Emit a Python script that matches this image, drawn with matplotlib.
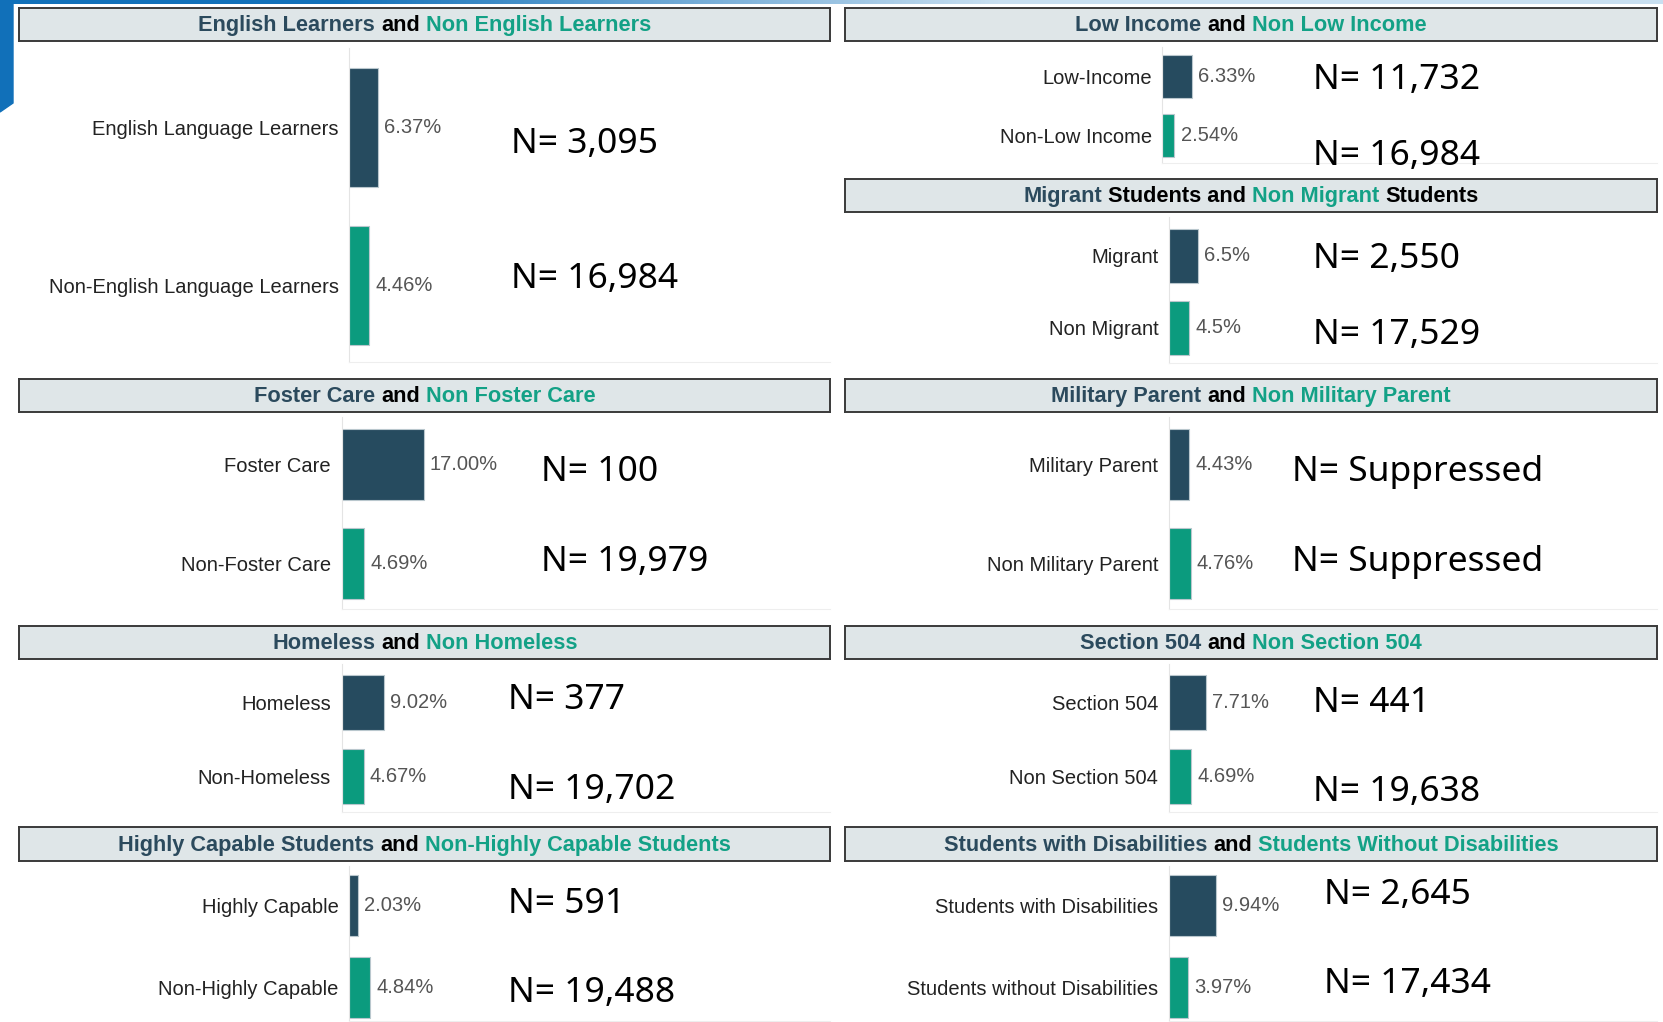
import numpy as np
import matplotlib
matplotlib.use('Agg')
import matplotlib.pyplot as plt
from matplotlib.patches import Polygon

W, H = 1663, 1022
S = W / 1568  # layout below was measured on the 1568 px wide preview

DARK = '#264b5f'
TEAL = '#0b9b7e'
TITLE_DARK = '#2b4a5d'
TITLE_TEAL = '#13a186'
HEAD_BG = '#dfe6e8'

plt.rcParams['font.family'] = ['Liberation Sans', 'DejaVu Sans']

# ---- data ----
el_labels = ['English Language Learners', 'Non-English Language Learners']
el_pct = [6.37, 4.46]
el_n = ['3,095', '16,984']

fc_labels = ['Foster Care', 'Non-Foster Care']
fc_pct = [17.00, 4.69]
fc_n = ['100', '19,979']

hl_labels = ['Homeless', 'Non-Homeless']
hl_pct = [9.02, 4.67]
hl_n = ['377', '19,702']

hc_labels = ['Highly Capable', 'Non-Highly Capable']
hc_pct = [2.03, 4.84]
hc_n = ['591', '19,488']

li_labels = ['Low-Income', 'Non-Low Income']
li_pct = [6.33, 2.54]
li_n = ['11,732', '16,984']

mg_labels = ['Migrant', 'Non Migrant']
mg_pct = [6.5, 4.5]
mg_n = ['2,550', '17,529']

mp_labels = ['Military Parent', 'Non Military Parent']
mp_pct = [4.43, 4.76]
mp_n = ['Suppressed', 'Suppressed']

s5_labels = ['Section 504', 'Non Section 504']
s5_pct = [7.71, 4.69]
s5_n = ['441', '19,638']

sd_labels = ['Students with Disabilities', 'Students without Disabilities']
sd_pct = [9.94, 3.97]
sd_n = ['2,645', '17,434']

K, A, T = TITLE_DARK, 'black', TITLE_TEAL
panels = [
    dict(title=[('English Learners', K), ('and', A), ('Non English Learners', T)],
         labels=el_labels, pct=el_pct, n=el_n, fmt='{:.2f}%',
         box=(18, 783, 8, 39), x0=329, body=(45, 341), cy=(120, 269), bh=112, ppp=4.25,
         nx=482, ny=(132, 259)),
    dict(title=[('Foster Care', K), ('and', A), ('Non Foster Care', T)],
         labels=fc_labels, pct=fc_pct, n=fc_n, fmt='{:.2f}%',
         box=(18, 783, 357, 388), x0=322, body=(393, 574), cy=(438, 531), bh=67, ppp=4.55,
         nx=510, ny=(441, 526)),
    dict(title=[('Homeless', K), ('and', A), ('Non Homeless', T)],
         labels=hl_labels, pct=hl_pct, n=hl_n, fmt='{:.2f}%',
         box=(18, 783, 590, 621), x0=322, body=(626, 766), cy=(662, 732), bh=52, ppp=4.45,
         nx=479, ny=(656, 741)),
    dict(title=[('Highly Capable Students', K), ('and', A), ('Non-Highly Capable Students', T)],
         labels=hc_labels, pct=hc_pct, n=hc_n, fmt='{:.2f}%',
         box=(18, 783, 780, 812), x0=329, body=(817, 963), cy=(854, 931), bh=58, ppp=4.1,
         nx=479, ny=(848, 932)),
    dict(title=[('Low Income', K), ('and', A), ('Non Low Income', T)],
         labels=li_labels, pct=li_pct, n=li_n, fmt='{:.2f}%',
         box=(797, 1562, 8, 39), x0=1096, body=(44, 154), cy=(72, 128), bh=41, ppp=4.4,
         nx=1238, ny=(71, 143)),
    dict(title=[('Migrant', K), ('Students and', A), ('Non Migrant', T), ('Students', A)],
         labels=mg_labels, pct=mg_pct, n=mg_n, fmt='{:.1f}%',
         box=(797, 1562, 169, 200), x0=1102, body=(205, 342), cy=(241, 309), bh=51, ppp=4.25,
         nx=1238, ny=(240, 312)),
    dict(title=[('Military Parent', K), ('and', A), ('Non Military Parent', T)],
         labels=mp_labels, pct=mp_pct, n=mp_n, fmt='{:.2f}%',
         box=(797, 1562, 357, 388), x0=1102, body=(393, 574), cy=(438, 531), bh=67, ppp=4.35,
         nx=1218, ny=(441, 526)),
    dict(title=[('Section 504', K), ('and', A), ('Non Section 504', T)],
         labels=s5_labels, pct=s5_pct, n=s5_n, fmt='{:.2f}%',
         box=(797, 1562, 590, 621), x0=1102, body=(626, 766), cy=(662, 732), bh=52, ppp=4.5,
         nx=1238, ny=(659, 743)),
    dict(title=[('Students with Disabilities', K), ('and', A), ('Students Without Disabilities', T)],
         labels=sd_labels, pct=sd_pct, n=sd_n, fmt='{:.2f}%',
         box=(797, 1562, 780, 812), x0=1102, body=(817, 963), cy=(854, 931), bh=58, ppp=4.45,
         nx=1248, ny=(840, 924)),
]


def rect(x0, y0, x1, y1):
    # preview pixel box (top-left origin) -> figure fraction
    return [x0 * S / W, 1 - y1 * S / H, (x1 - x0) * S / W, (y1 - y0) * S / H]


def draw_header(fig, r, pieces):
    ax = fig.add_axes(r)
    ax.set_facecolor(HEAD_BG)
    ax.set_xticks([])
    ax.set_yticks([])
    for sp in ax.spines.values():
        sp.set_color('#3a3a3a')
        sp.set_linewidth(1.4)
    rend = fig.canvas.get_renderer()
    kw = dict(fontsize=15.7, fontweight='bold', va='center', ha='left', transform=ax.transAxes)
    t1 = ax.text(0, 0.5, 'a a', **kw)
    t2 = ax.text(0, 0.5, 'aa', **kw)
    gap = t1.get_window_extent(rend).width - t2.get_window_extent(rend).width
    t1.remove()
    t2.remove()
    texts = [ax.text(0, 0.47, s, color=c, **kw) for s, c in pieces]
    widths = [t.get_window_extent(rend).width for t in texts]
    axw = ax.get_window_extent(rend).width
    x = (axw - sum(widths) - gap * (len(widths) - 1)) / 2
    for t, w in zip(texts, widths):
        t.set_x(x / axw)
        x += w + gap


def draw_panel(fig, p):
    left, right, htop, hbot = p['box']
    draw_header(fig, rect(left, htop, right, hbot), p['title'])

    btop, bbot = p['body']
    c1, c2 = p['cy']
    d = c2 - c1
    ax = fig.add_axes(rect(p['x0'], btop, right, bbot))
    ax.set_facecolor('none')
    ypos = np.arange(len(p['pct']))
    bars = ax.barh(ypos, p['pct'], height=p['bh'] / d, color=[DARK, TEAL],
                   edgecolor='#b9c7cd', linewidth=0.8)
    ax.set_xlim(0, (right - p['x0']) / p['ppp'])
    ax.set_ylim(1 + (bbot - c2) / d, -(c1 - btop) / d)
    ax.set_yticks(ypos)
    ax.set_yticklabels(p['labels'], fontsize=14.5, color='#222222')
    ax.tick_params(axis='y', length=0, pad=7.5)
    ax.set_xticks([])
    for side in ('top', 'right'):
        ax.spines[side].set_visible(False)
    ax.spines['left'].set_color('#e4e4e4')
    ax.spines['bottom'].set_color('#eeeeee')
    ax.bar_label(bars, labels=[p['fmt'].format(v) for v in p['pct']],
                 padding=4.5, fontsize=14.5, color='#555555')

    for ny, n in zip(p['ny'], p['n']):
        fig.text(p['nx'] * S / W, 1 - (ny + 4) * S / H, 'N= ' + n, fontsize=25.5,
                 family=['Noto Sans', 'DejaVu Sans'], color='black', va='center', ha='left')


def main():
    fig = plt.figure(figsize=(W / 100, H / 100), dpi=100)
    fig.patch.set_facecolor('white')

    # blue frame fragment in the top-left corner of the screenshot
    grad = fig.add_axes([0, 1 - 4 / H, 1, 4 / H])
    ramp = np.clip((np.linspace(0, 1, 400) - 0.2) / 0.4, 0, 1)
    c0 = np.array(matplotlib.colors.to_rgb('#1170b9'))
    c1 = np.array(matplotlib.colors.to_rgb('#c8dff0'))
    grad.imshow((c0[None, :] * (1 - ramp[:, None]) + c1[None, :] * ramp[:, None])[None, :, :],
                aspect='auto')
    grad.axis('off')
    fig.add_artist(Polygon([[0, 1], [13 / W, 1], [13 / W, 1 - 103 / H], [0, 1 - 112 / H]],
                           closed=True, transform=fig.transFigure, color='#1170b9'))

    for p in panels:
        draw_panel(fig, p)

    fig.savefig('out.png', dpi=100)


if __name__ == '__main__':
    main()
